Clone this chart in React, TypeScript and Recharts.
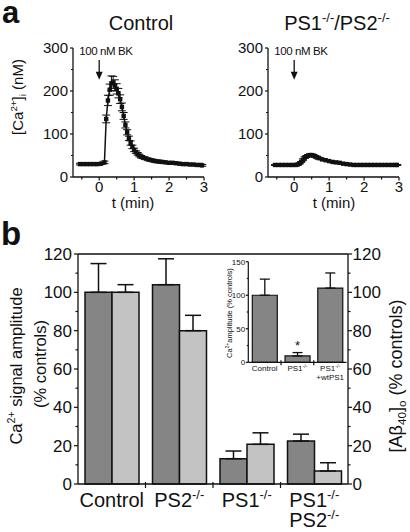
import React from "react";
import {
  LineChart,
  Line,
  XAxis,
  YAxis,
  ErrorBar,
  ReferenceLine,
  BarChart,
  Bar,
  LabelList,
} from "recharts";

const FONT = "'Liberation Sans', Arial, Helvetica, sans-serif";
const INK = "#111";
const DARK = "#858585";
const LIGHT = "#c3c3c3";

// ─── Panel a: [Ca2+]i traces (time in min, nM) ───

const controlTime = [
  -0.55, -0.45, -0.35, -0.25, -0.15, -0.05, 0.05, 0.15, 0.2, 0.25, 0.3, 0.35,
  0.4, 0.45, 0.5, 0.55, 0.6, 0.65, 0.7, 0.75, 0.8, 0.85, 0.9, 0.95, 1.0, 1.05,
  1.1, 1.15, 1.2, 1.3, 1.4, 1.5, 1.6, 1.7, 1.8, 1.9, 2.0, 2.1, 2.2, 2.3, 2.4,
  2.5, 2.6, 2.7, 2.8, 2.9, 2.95,
];
const controlCa = [
  30, 30, 30, 30, 30, 30, 31, 34, 135, 178, 203, 218, 220, 213, 205, 195, 181,
  163, 142, 121, 104, 90, 79, 70, 63, 58, 54, 50, 47, 44, 41, 39, 37, 36, 35,
  34, 33, 33, 32, 31, 30, 30, 29, 29, 28, 28, 27,
];
const controlSem = [
  2, 2, 2, 2, 2, 2, 2, 3, 9, 12, 13, 17, 14, 13, 12, 11, 10, 9, 8, 7, 6, 5, 5,
  4, 4, 3, 3, 3, 3, 3, 3, 3, 3, 3, 3, 2, 2, 2, 2, 2, 2, 2, 2, 2, 2, 2, 2,
];

const koTime = [
  -0.55, -0.45, -0.35, -0.25, -0.15, -0.05, 0.05, 0.1, 0.15, 0.2, 0.25, 0.3,
  0.35, 0.4, 0.45, 0.5, 0.55, 0.6, 0.65, 0.7, 0.8, 0.9, 1.0, 1.1, 1.2, 1.3,
  1.4, 1.5, 1.6, 1.7, 1.8, 1.9, 2.0, 2.1, 2.2, 2.3, 2.4, 2.5, 2.6, 2.7, 2.8,
  2.9, 2.95,
];
const koCa = [
  28, 28, 28, 28, 28, 28, 28, 29, 31, 35, 40, 45, 48, 50, 51, 51, 50, 48, 46,
  44, 41, 39, 37, 35, 34, 33, 31, 30, 29, 28, 28, 28, 28, 28, 28, 28, 28, 28,
  28, 28, 28, 28, 28,
];
const koSem = [
  1, 1, 1, 1, 1, 1, 1, 1, 1, 1, 2, 2, 2, 2, 2, 2, 2, 2, 2, 2, 1, 1, 1, 1, 1, 1,
  1, 1, 1, 1, 1, 1, 1, 1, 1, 1, 1, 1, 1, 1, 1, 1, 1,
];

const timeTicks = [-0.5, 0, 0.5, 1, 1.5, 2, 2.5, 3];
const caTicks = [0, 50, 100, 150, 200, 250, 300];
const stimTime = 0;
const stimLabel = "100 nM BK";

// ─── Panel b: amplitudes and Aβ40 (% controls) ───

const groups = ["Control", "PS2^{-/-}", "PS1^{-/-}", "PS1^{-/-}|PS2^{-/-}"];
const caAmplitude = [100, 104, 13.2, 22.4];
const caAmplitudeSem = [15, 13.5, 4, 3.6];
const abeta40 = [100, 80, 20.7, 6.8];
const abeta40Sem = [4, 8, 6, 4.3];
const percentTicks = [0, 10, 20, 30, 40, 50, 60, 70, 80, 90, 100, 110, 120];

const insetGroups = ["Control", "PS1^{-/-}", "PS1^{-/-}|+wtPS1"];
const insetCa = [100, 9.5, 110.7];
const insetSem = [24, 5, 22.5];
const insetMarks = ["", "*", ""];
const insetTicks = [0, 25, 50, 75, 100, 125, 150];

// ─── Text with ^{sup} and _{sub} ─────────────────

function RichText({
  text,
  x,
  y,
  fontSize,
  anchor = "middle",
  rotate = false,
  weight = "normal",
}: {
  text: string;
  x: number;
  y: number;
  fontSize: number;
  anchor?: "start" | "middle" | "end";
  rotate?: boolean;
  weight?: string;
}) {
  const re = /\^\{([^}]*)\}|_\{([^}]*)\}|[^^_]+/g;
  const parts: React.ReactNode[] = [];
  let shift = 0;
  let m: RegExpExecArray | null;
  let k = 0;
  while ((m = re.exec(text))) {
    let target = 0;
    let size = fontSize;
    let str = m[0];
    if (m[1] !== undefined) {
      target = -0.42 * fontSize;
      size = 0.65 * fontSize;
      str = m[1];
    } else if (m[2] !== undefined) {
      target = 0.22 * fontSize;
      size = 0.65 * fontSize;
      str = m[2];
    }
    parts.push(
      <tspan key={k++} dy={target - shift} fontSize={size}>
        {str}
      </tspan>
    );
    shift = target;
  }
  return (
    <text
      x={x}
      y={y}
      textAnchor={anchor}
      fontFamily={FONT}
      fontSize={fontSize}
      fontWeight={weight}
      fill={INK}
      transform={rotate ? `rotate(-90 ${x} ${y})` : undefined}
      style={{ whiteSpace: "pre" }}
    >
      {parts}
    </text>
  );
}

// ─── Tick factories ──────────────────────────────

function makeYTick(
  majorStep: number,
  side: "left" | "right",
  fontSize: number,
  majorLen: number,
  minorLen: number,
  gap: number
) {
  return (props: any) => {
    const { x, y, payload } = props;
    const major = Math.abs(payload.value % majorStep) < 1e-6;
    const dir = side === "left" ? -1 : 1;
    const len = major ? majorLen : minorLen;
    return (
      <g>
        <line x1={x} x2={x + dir * len} y1={y} y2={y} stroke={INK} strokeWidth={1.2} />
        {major && (
          <text
            x={x + dir * (majorLen + gap)}
            y={y}
            dy="0.36em"
            textAnchor={side === "left" ? "end" : "start"}
            fontSize={fontSize}
            fontFamily={FONT}
            fill={INK}
          >
            {payload.value}
          </text>
        )}
      </g>
    );
  };
}

function TimeTick(props: any) {
  const { x, y, payload } = props;
  const major = Number.isInteger(payload.value);
  return (
    <g>
      <line x1={x} x2={x} y1={y} y2={y + (major ? 3.5 : 2.5)} stroke={INK} strokeWidth={1.2} />
      {major && (
        <text x={x} y={y + 15} textAnchor="middle" fontSize={15} fontFamily={FONT} fill={INK}>
          {payload.value}
        </text>
      )}
    </g>
  );
}

function makeGroupTick(fontSize: number, firstDy: number, lineDy: number, tickLen: number, fallbackHalf: number) {
  return (props: any) => {
    const { x, y, payload } = props;
    const half = payload.offset ?? fallbackHalf;
    const lines = String(payload.value).split("|");
    return (
      <g>
        {payload.index > 0 && (
          <line x1={x - half} x2={x - half} y1={y - 2} y2={y + tickLen} stroke={INK} strokeWidth={1.2} />
        )}
        {lines.map((l, i) => (
          <RichText key={i} text={l} x={x} y={y + firstDy + i * lineDy} fontSize={fontSize} />
        ))}
      </g>
    );
  };
}

// ─── Stimulus arrow ──────────────────────────────

function StimArrow(props: any) {
  const { x1, y1, x2, y2 } = props;
  const top = Math.min(y1, y2);
  const bottom = Math.max(y1, y2);
  return (
    <g>
      <line x1={x1} x2={x2} y1={top} y2={bottom - 6} stroke={INK} strokeWidth={1.3} />
      <polygon points={`${x1 - 3.5},${bottom - 8} ${x1 + 3.5},${bottom - 8} ${x1},${bottom}`} fill={INK} />
      <text
        x={x1 - 20}
        y={top - 5}
        fontSize={11.5}
        fontFamily={FONT}
        letterSpacing={-0.4}
        fill={INK}
      >
        {stimLabel}
      </text>
    </g>
  );
}

// ─── Trace chart ─────────────────────────────────

const caYTick = makeYTick(100, "left", 15, 3, 2, 2);

function TraceChart({
  time,
  ca,
  sem,
  left,
}: {
  time: number[];
  ca: number[];
  sem: number[];
  left: number;
}) {
  const data = time.map((t, i) => ({ t, ca: ca[i], sem: sem[i] }));
  return (
    <div style={{ position: "absolute", left, top: 0 }}>
      <LineChart width={215} height={215} data={data} margin={{ top: 48, right: 11, bottom: 8, left: 0 }}>
        <XAxis
          dataKey="t"
          type="number"
          domain={[-0.75, 3]}
          ticks={timeTicks}
          interval={0}
          allowDataOverflow
          height={30}
          tick={TimeTick}
          tickLine={false}
          tickSize={0}
          tickMargin={0}
          axisLine={{ stroke: INK, strokeWidth: 1.3 }}
        />
        <YAxis
          type="number"
          domain={[0, 300]}
          ticks={caTicks}
          interval={0}
          width={73}
          tick={caYTick}
          tickLine={false}
          tickSize={0}
          tickMargin={0}
          axisLine={{ stroke: INK, strokeWidth: 1.3 }}
        />
        <ReferenceLine
          segment={[
            { x: stimTime, y: 272 },
            { x: stimTime, y: 226 },
          ]}
          shape={StimArrow}
          ifOverflow="visible"
        />
        <Line
          type="linear"
          dataKey="ca"
          stroke={INK}
          strokeWidth={1.5}
          isAnimationActive={false}
          dot={(p: any) => (
            <rect key={`d${p.index}`} x={p.cx - 2.2} y={p.cy - 2.2} width={4.4} height={4.4} fill={INK} />
          )}
        >
          <ErrorBar dataKey="sem" width={4} stroke={INK} strokeWidth={1} direction="y" />
        </Line>
      </LineChart>
    </div>
  );
}

// ─── Panel b charts ──────────────────────────────

const pctLeftTick = makeYTick(20, "left", 17, 4, 2.5, 2);
const pctRightTick = makeYTick(20, "right", 17, 4, 2.5, 0.5);
const groupTick = makeGroupTick(20, 23, 20, 4, 33.75);
const insetYTick = makeYTick(50, "left", 8, 2.5, 1.5, 0.6);
const insetGroupTick = makeGroupTick(8, 9, 9, 3, 16.35);

function AmplitudeChart() {
  const data = groups.map((g, i) => ({
    g,
    ca: caAmplitude[i],
    caErr: [0, caAmplitudeSem[i]],
    ab: abeta40[i],
    abErr: [0, abeta40Sem[i]],
  }));
  return (
    <div style={{ position: "absolute", left: 0, top: 240 }}>
      <BarChart width={410} height={292} data={data} margin={{ top: 14, right: 0, bottom: 0, left: 0 }} barSize={27} barGap={0}>
        <XAxis
          dataKey="g"
          height={48}
          interval={0}
          tick={groupTick}
          tickLine={false}
          tickSize={0}
          tickMargin={0}
          axisLine={{ stroke: INK, strokeWidth: 1.3 }}
        />
        <YAxis
          yAxisId="ca"
          domain={[0, 120]}
          ticks={percentTicks}
          interval={0}
          width={78}
          tick={pctLeftTick}
          tickLine={false}
          tickSize={0}
          tickMargin={0}
          axisLine={{ stroke: INK, strokeWidth: 1.3 }}
        />
        <YAxis
          yAxisId="ab"
          orientation="right"
          domain={[0, 120]}
          ticks={percentTicks}
          interval={0}
          width={62}
          tick={pctRightTick}
          tickLine={false}
          tickSize={0}
          tickMargin={0}
          axisLine={{ stroke: INK, strokeWidth: 1.3 }}
        />
        <ReferenceLine yAxisId="ca" y={120} stroke={INK} strokeWidth={1.3} />
        <Bar yAxisId="ca" dataKey="ca" fill={DARK} stroke={INK} strokeWidth={1.5} isAnimationActive={false}>
          <ErrorBar dataKey="caErr" width={8} stroke={INK} strokeWidth={1.5} direction="y" />
        </Bar>
        <Bar yAxisId="ab" dataKey="ab" fill={LIGHT} stroke={INK} strokeWidth={1.5} isAnimationActive={false}>
          <ErrorBar dataKey="abErr" width={8} stroke={INK} strokeWidth={1.5} direction="y" />
        </Bar>
      </BarChart>
    </div>
  );
}

function InsetChart() {
  const data = insetGroups.map((g, i) => ({
    g,
    ca: insetCa[i],
    err: [0, insetSem[i]],
    mark: insetMarks[i],
  }));
  return (
    <div style={{ position: "absolute", left: 200, top: 250 }}>
      <BarChart width={150} height={140} data={data} margin={{ top: 11.7, right: 3.5, bottom: 0, left: 0 }} barSize={25}>
        <XAxis
          dataKey="g"
          height={27.7}
          interval={0}
          tick={insetGroupTick}
          tickLine={false}
          tickSize={0}
          tickMargin={0}
          axisLine={{ stroke: INK, strokeWidth: 1.2 }}
        />
        <YAxis
          domain={[0, 150]}
          ticks={insetTicks}
          interval={0}
          width={48.3}
          tick={insetYTick}
          tickLine={false}
          tickSize={0}
          tickMargin={0}
          axisLine={{ stroke: INK, strokeWidth: 1.2 }}
        />
        <Bar dataKey="ca" fill={DARK} stroke={INK} strokeWidth={1.2} isAnimationActive={false}>
          <ErrorBar dataKey="err" width={5} stroke={INK} strokeWidth={1.3} direction="y" />
          <LabelList dataKey="mark" position="top" offset={6} fontSize={13} fill={INK} fontFamily={FONT} />
        </Bar>
      </BarChart>
    </div>
  );
}

// ─── Figure ──────────────────────────────────────

export default function App() {
  return (
    <div
      style={{
        position: "absolute",
        left: 0,
        top: 0,
        width: 410,
        height: 532,
        background: "#fff",
        fontFamily: FONT,
        overflow: "hidden",
      }}
    >
      <TraceChart time={controlTime} ca={controlCa} sem={controlSem} left={0} />
      <TraceChart time={koTime} ca={koCa} sem={koSem} left={195} />
      <AmplitudeChart />
      <InsetChart />
      <svg width={410} height={532} style={{ position: "absolute", left: 0, top: 0, pointerEvents: "none" }}>
        <RichText text="a" x={2} y={23} fontSize={31} anchor="start" weight="bold" />
        <RichText text="b" x={1} y={245} fontSize={33} anchor="start" weight="bold" />
        <RichText text="Control" x={141} y={30} fontSize={20} />
        <RichText text="PS1^{-/-}/PS2^{-/-}" x={337} y={30} fontSize={20} />
        <RichText text="[Ca^{2+}]_{i} (nM)" x={23} y={97} fontSize={15} rotate />
        <RichText text="t (min)" x={133} y={208} fontSize={15} />
        <RichText text="t (min)" x={334} y={208} fontSize={15} />
        <RichText text="Ca^{2+} signal amplitude" x={22} y={366} fontSize={16.5} rotate />
        <RichText text="(% controls)" x={46} y={364} fontSize={16.5} rotate />
        <RichText text="[Aβ_{40}]_{o} (% controls)" x={402} y={376} fontSize={18} rotate />
        <RichText text="Ca^{2+}amplitude (% controls)" x={232} y={313} fontSize={7.5} rotate />
      </svg>
    </div>
  );
}
